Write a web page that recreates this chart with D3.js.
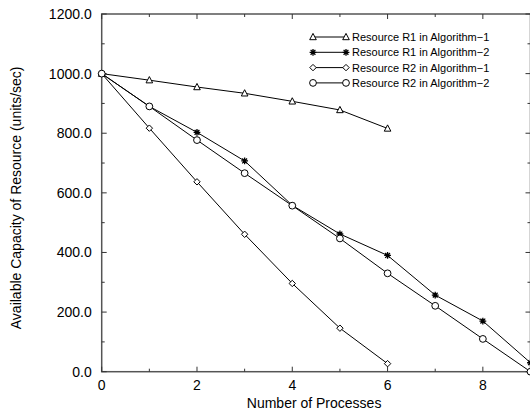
<!DOCTYPE html>
<html><head><meta charset="utf-8">
<script src="https://cdn.jsdelivr.net/npm/d3@7"></script>
<style>body{margin:0;background:#fff}svg{display:block}text{font-family:"Liberation Sans",Arial,sans-serif;fill:#000}</style>
</head><body><svg id="c" width="530" height="413"></svg>
<script>
const processes = [0,1,2,3,4,5,6,7,8,9];
const r1Alg1 = [1000,978,955,934,907,878,816];
const r1Alg2 = [1000,890,803,707,558,462,390,257,170,30];
const r2Alg1 = [1000,817,637,461,296,146,27];
const r2Alg2 = [1000,890,777,666,557,447,330,221,110,0];
const seriesNames = ["Resource R1 in Algorithm\u22121","Resource R1 in Algorithm\u22122","Resource R2 in Algorithm\u22121","Resource R2 in Algorithm\u22122"];
const seriesSymbols = ["triangle","star","diamond","circle"];
const xTicks = [0,2,4,6,8];
const yTicks = [0,200,400,600,800,1000,1200];

const svg = d3.select("#c");
const L=101.7, R=530.5, T=14, B=371.7;
const x = d3.scaleLinear().domain([0,9]).range([L,R]);
const y = d3.scaleLinear().domain([0,1200]).range([B,T]);

const g = svg.append("g");
g.append("rect").attr("x",L).attr("y",T).attr("width",R-L).attr("height",B-T)
 .attr("fill","none").attr("stroke","#555").attr("stroke-width",1.5);

const tickCol="#333";
d3.range(0,10,1).forEach(v=>{
  const major = v%2===0; const len = major?5:3;
  g.append("line").attr("x1",x(v)).attr("x2",x(v)).attr("y1",B).attr("y2",B-len).attr("stroke",tickCol);
  g.append("line").attr("x1",x(v)).attr("x2",x(v)).attr("y1",T).attr("y2",T+len).attr("stroke",tickCol);
});
d3.range(0,1201,100).forEach(v=>{
  const major = v%200===0; const len = major?5:3;
  g.append("line").attr("x1",L).attr("x2",L+len).attr("y1",y(v)).attr("y2",y(v)).attr("stroke",tickCol);
  g.append("line").attr("x1",R).attr("x2",R-len).attr("y1",y(v)).attr("y2",y(v)).attr("stroke",tickCol);
});
xTicks.forEach(v=>{
  g.append("text").attr("x",x(v)).attr("y",B+18).attr("text-anchor","middle").attr("font-size",14).text(v);
});
yTicks.forEach(v=>{
  g.append("text").attr("x",L-10).attr("y",y(v)+5).attr("text-anchor","end").attr("font-size",14).text(v.toFixed(1));
});
g.append("text").attr("x",(L+R)/2-2).attr("y",408).attr("text-anchor","middle").attr("font-size",14).text("Number of Processes");
g.append("text").attr("transform",`translate(21,${(T+B)/2+5}) rotate(-90)`).attr("text-anchor","middle").attr("font-size",14)
 .text("Available Capacity of Resource (units/sec)");

function drawSymbol(sel, type, cx, cy){
  const s = sel.append("g").attr("transform",`translate(${cx},${cy})`).attr("fill","#fff").attr("stroke","#000").attr("stroke-width",1);
  if(type==="triangle") s.append("path").attr("d","M0,-3.6L3.3,2.7L-3.3,2.7Z");
  else if(type==="circle") s.append("circle").attr("r",3.4);
  else if(type==="diamond") s.append("path").attr("d","M0,-3.2L3.2,0L0,3.2L-3.2,0Z");
  else if(type==="star"){
    s.append("path").attr("d","M-3.4,0H3.4M0,-3.4V3.4M-2.4,-2.4L2.4,2.4M-2.4,2.4L2.4,-2.4").attr("stroke-width",1.3);
    s.append("circle").attr("r",1.5).attr("fill","#000").attr("stroke","none");
  }
}
const seriesData = [r1Alg1,r1Alg2,r2Alg1,r2Alg2];
const line = d3.line().x((d,i)=>x(processes[i])).y(d=>y(d));
seriesData.forEach(vals=>{
  g.append("path").attr("d",line(vals)).attr("fill","none").attr("stroke","#000").attr("stroke-width",1);
});
seriesData.forEach((vals,k)=>{
  vals.forEach((v,i)=>drawSymbol(g,seriesSymbols[k],x(processes[i]),y(v)));
});

seriesNames.forEach((n,k)=>{
  const ly = 37 + k*15.3;
  g.append("line").attr("x1",313).attr("x2",346).attr("y1",ly).attr("y2",ly).attr("stroke","#000");
  drawSymbol(g,seriesSymbols[k],313,ly);
  drawSymbol(g,seriesSymbols[k],346,ly);
  g.append("text").attr("x",352).attr("y",ly+4).attr("font-size",11).text(n);
});
</script></body></html>
